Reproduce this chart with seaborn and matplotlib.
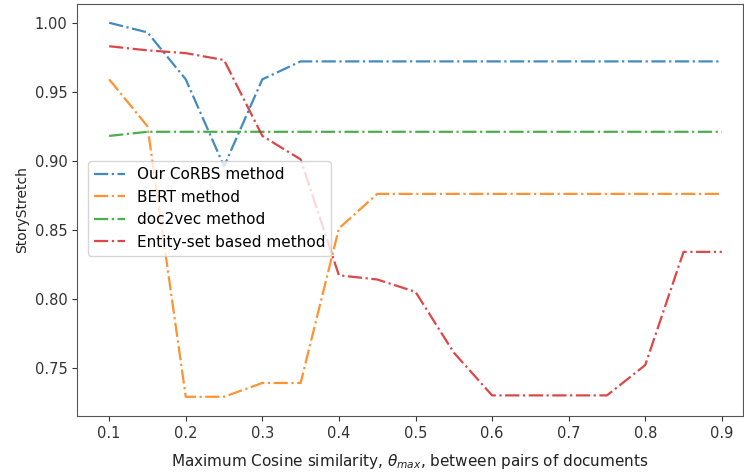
import matplotlib
matplotlib.use("Agg")
import matplotlib.pyplot as plt
import seaborn as sns
import pandas as pd

theta = [0.10, 0.15, 0.20, 0.25, 0.30, 0.35, 0.40, 0.45, 0.50,
         0.55, 0.60, 0.65, 0.70, 0.75, 0.80, 0.85, 0.90]

corbs = [1.000, 0.993, 0.959, 0.896, 0.959, 0.972, 0.972, 0.972, 0.972,
         0.972, 0.972, 0.972, 0.972, 0.972, 0.972, 0.972, 0.972]
bert = [0.959, 0.925, 0.729, 0.729, 0.739, 0.739, 0.851, 0.876, 0.876,
        0.876, 0.876, 0.876, 0.876, 0.876, 0.876, 0.876, 0.876]
doc2vec = [0.918, 0.921, 0.921, 0.921, 0.921, 0.921, 0.921, 0.921, 0.921,
           0.921, 0.921, 0.921, 0.921, 0.921, 0.921, 0.921, 0.921]
entity = [0.983, 0.980, 0.978, 0.973, 0.918, 0.901, 0.817, 0.814, 0.805,
          0.761, 0.730, 0.730, 0.730, 0.730, 0.752, 0.834, 0.834]

methods = ["Our CoRBS method", "BERT method", "doc2vec method",
           "Entity-set based method"]
series = [corbs, bert, doc2vec, entity]
colors = ["#1f77b4", "#ff7f0e", "#2ca02c", "#d62728"]

df = pd.concat(
    [pd.DataFrame({"theta": theta, "score": vals, "method": name})
     for name, vals in zip(methods, series)],
    ignore_index=True,
)

fig = plt.figure(figsize=(7.44, 4.75), dpi=100)
ax = fig.add_axes([0.1035, 0.124, 0.8945, 0.8676])

sns.lineplot(data=df, x="theta", y="score", hue="method",
             hue_order=methods, palette=colors, ax=ax,
             linewidth=1.6, alpha=0.85)
for line in ax.get_lines():
    line.set_linestyle("-.")

ax.set_xlim(0.058, 0.927)
ax.set_ylim(0.715, 1.0136)
ax.set_xticks([0.1, 0.2, 0.3, 0.4, 0.5, 0.6, 0.7, 0.8, 0.9])
ax.set_yticks([0.75, 0.80, 0.85, 0.90, 0.95, 1.00])
ax.set_yticklabels(["0.75", "0.80", "0.85", "0.90", "0.95", "1.00"])
ax.tick_params(labelsize=10.5, colors="#333333")

ax.set_xlabel(r"Maximum Cosine similarity, $\theta_{max}$, between pairs of documents",
              fontsize=11, labelpad=8, color="#222222")
ax.set_ylabel("StoryStretch", fontsize=10, color="#222222")

leg = ax.legend(loc="upper left", bbox_to_anchor=(0.005, 0.638),
                fontsize=11, framealpha=0.8, handlelength=2.0)
for h in leg.get_lines():
    h.set_linestyle("-.")

for s in ax.spines.values():
    s.set_color("#555555")

fig.savefig("out.png", dpi=100)
